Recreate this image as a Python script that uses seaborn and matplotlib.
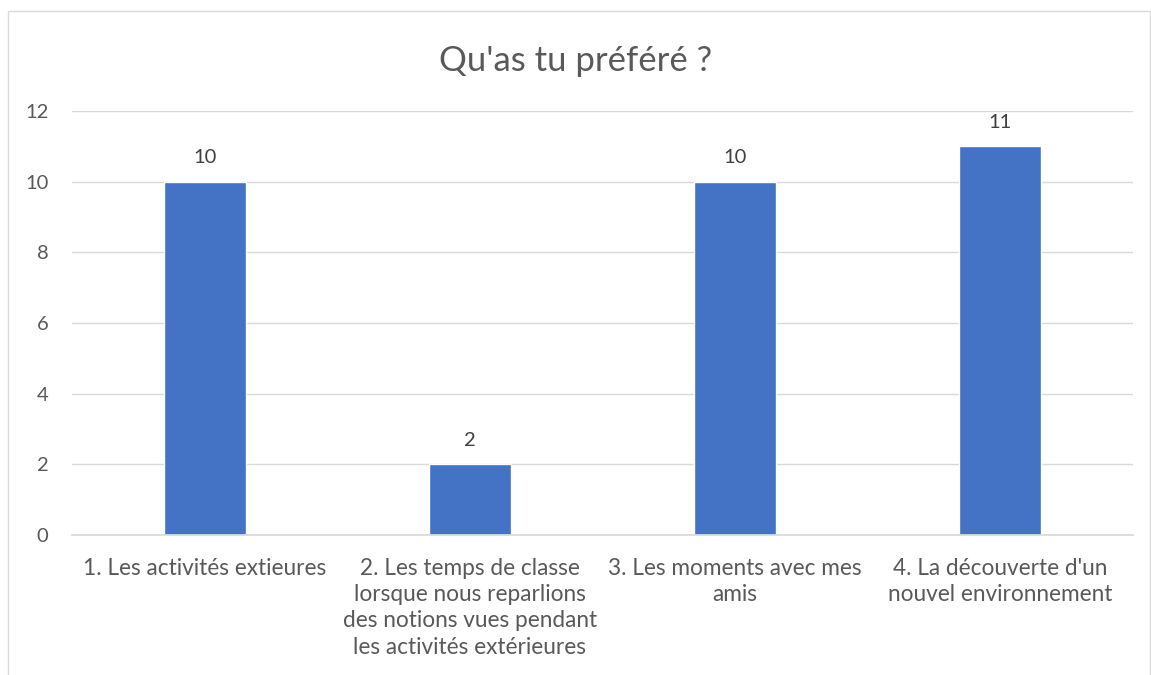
import matplotlib
matplotlib.use("Agg")
import matplotlib.pyplot as plt
import seaborn as sns
import pandas as pd
from matplotlib.patches import Rectangle

categories = [
    "1. Les activités extieures",
    "2. Les temps de classe\nlorsque nous reparlions\ndes notions vues pendant\nles activités extérieures",
    "3. Les moments avec mes\namis",
    "4. La découverte d'un\nnouvel environnement",
]
values = [10, 2, 10, 11]
yticks = [0, 2, 4, 6, 8, 10, 12]
title = "Qu'as tu préféré ?"

sns.set_theme(style="white")
plt.rcParams['font.family'] = ['Lato', 'DejaVu Sans']

fig = plt.figure(figsize=(11.51, 6.75), dpi=100)
ax = fig.add_axes([0.0626, 0.2074, 0.9214, 0.6282])

df = pd.DataFrame({"cat": categories, "val": values})
sns.barplot(data=df, x="cat", y="val", color="#4472C4", width=0.31, ax=ax, saturation=1)

ax.set_ylim(0, 12)
ax.set_yticks(yticks)
ax.set_xlim(-0.5, 3.5)
ax.yaxis.grid(True, color="#D9D9D9", linewidth=1)
ax.set_axisbelow(True)
for s in ["top", "right", "left"]:
    ax.spines[s].set_visible(False)
ax.spines["bottom"].set_color("#D9D9D9")
ax.set_xlabel("")
ax.set_ylabel("")
ax.tick_params(axis="y", length=0, labelsize=14.5, colors="#595959", pad=17)
ax.tick_params(axis="x", length=0, labelsize=16.3, colors="#595959", pad=16.5)
for lab in ax.get_xticklabels():
    lab.set_linespacing(1.31)

for i, v in enumerate(values):
    ax.annotate(str(v), (i, v), xytext=(0, 11), textcoords="offset points",
                ha="center", va="bottom", fontsize=14.5, color="#404040")

fig.text(0.5, 0.909, title, ha="center", va="center", fontsize=25, color="#595959")

fig.patches.append(Rectangle((0.007, -0.01), 0.992, 0.993, transform=fig.transFigure,
                             fill=False, edgecolor="#D9D9D9", linewidth=1))

fig.savefig("out.png", dpi=100)
